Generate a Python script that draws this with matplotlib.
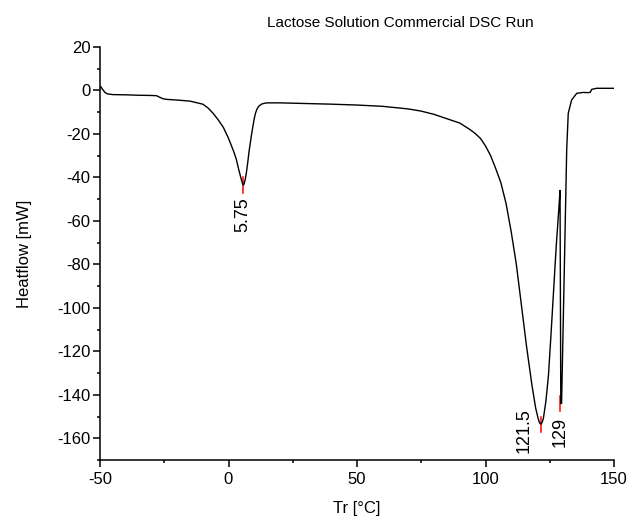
import matplotlib
matplotlib.use("Agg")
import matplotlib.pyplot as plt
from matplotlib.ticker import MultipleLocator

plt.rcParams["font.family"] = ["Liberation Sans", "DejaVu Sans"]
plt.rcParams["axes.unicode_minus"] = False

# DSC trace (temperature in C, heatflow in mW)
temp = [-50.0, -49.7, -49.0, -48.0, -47.0, -45.0, -40.0, -35.0, -30.0, -28.0,
        -27.0, -25.5, -24.0, -20.0, -15.0, -10.0, -8.0, -6.0, -4.0, -2.0,
        0.0, 2.0, 3.0, 4.0, 5.0, 5.5, 5.75, 6.0, 6.5, 7.0,
        7.5, 8.0, 9.0, 10.0, 10.5, 11.0, 11.5, 12.0, 13.0, 14.0,
        15.0, 20.0, 30.0, 40.0, 50.0, 60.0, 70.0, 75.0, 80.0, 85.0,
        88.0, 90.0, 92.0, 94.0, 96.0, 98.0, 100.0, 102.0, 104.0, 106.0,
        108.0, 110.0, 112.0, 114.0, 116.0, 118.0, 119.5, 120.5, 121.0, 121.5,
        122.0, 122.5, 123.5, 124.5, 125.5, 126.5, 127.5, 128.5, 129.0, 129.3,
        129.6, 130.6, 131.6, 132.2, 133.5, 135.5, 138.0, 140.0, 140.8, 141.3,
        143.2, 150.0]
heatflow = [1.2, 1.8, 0.5, -1.0, -1.6, -1.9, -2.0, -2.2, -2.3, -2.4,
            -3.0, -3.8, -4.1, -4.4, -4.9, -6.3, -8.0, -10.5, -13.5, -17.0,
            -22.0, -28.0, -31.5, -36.5, -41.0, -43.0, -43.5, -43.2, -41.0, -37.5,
            -33.0, -28.0, -20.0, -13.0, -10.5, -8.8, -7.7, -7.0, -6.2, -5.9,
            -5.7, -5.7, -6.0, -6.3, -6.7, -7.3, -8.5, -9.5, -11.0, -13.0,
            -14.2, -15.0, -16.5, -18.0, -19.8, -22.0, -25.5, -30.0, -36.0, -42.5,
            -52.0, -65.0, -80.0, -99.0, -118.0, -135.0, -146.0, -151.0, -152.8, -153.5,
            -152.8, -151.0, -143.0, -131.0, -112.0, -92.0, -72.0, -55.0, -46.0, -144.0,
            -144.0, -86.0, -27.0, -10.5, -4.4, -1.3, -0.9, -1.0, -0.8, 0.5,
            1.0, 1.0]

# peak picks
peak_x = [5.75, 121.5, 129.0]
peak_y = [-43.5, -153.5, -144.0]
peak_labels = ["5.75", "121.5", "129"]
label_offsets = [(0, -9), (-12, 11.5), (0, -10)]  # points

fig = plt.figure(figsize=(6.29, 5.24), dpi=100)
ax = fig.add_axes([100 / 629, 1 - 460 / 524, 514 / 629, 413 / 524])

# red peak markers under the trace
for px, py in zip(peak_x, peak_y):
    ax.plot([px, px], [py - 3.5, py + 3.5], color="#ff0000", lw=1.1, zorder=1)

ax.plot(temp, heatflow, color="black", lw=1.0, zorder=2)

for px, py, txt, off in zip(peak_x, peak_y, peak_labels, label_offsets):
    ax.annotate(txt, xy=(px, py), xytext=off, textcoords="offset points",
                rotation=90, ha="center", va="top", fontsize=13)

ax.set_xlim(-50, 150)
ax.set_ylim(-170, 20)
ax.xaxis.set_major_locator(MultipleLocator(50))
ax.xaxis.set_minor_locator(MultipleLocator(25))
ax.yaxis.set_major_locator(MultipleLocator(20))
ax.yaxis.set_minor_locator(MultipleLocator(10))

ax.spines["top"].set_visible(False)
ax.spines["right"].set_visible(False)
for side in ["left", "bottom"]:
    ax.spines[side].set_linewidth(1.1)
ax.tick_params(which="major", direction="out", length=5, width=1.1,
               labelsize=12, pad=2)
ax.tick_params(axis="x", which="major", pad=4)
ax.tick_params(which="minor", direction="out", length=2.5, width=1.1)

ax.set_xlabel("Tr [°C]", fontsize=12)
ax.set_ylabel("Heatflow [mW]", fontsize=12)
ax.xaxis.set_label_coords(0.5, -0.1)
ax.yaxis.set_label_coords(-0.133, 0.5)
fig.text(400 / 629, 1 - 27 / 524, "Lactose Solution Commercial DSC Run",
         ha="center", va="baseline", fontsize=11)

fig.savefig("out.png", dpi=100)
